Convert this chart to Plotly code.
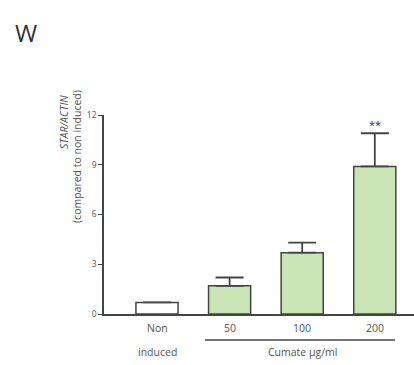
import plotly.graph_objects as go

categories = ["Non induced", "50", "100", "200"]
values = [0.7, 1.7, 3.7, 8.9]
errors = [0, 0.5, 0.6, 2.0]
fills = ["#ffffff", "#c9e5b6", "#c9e5b6", "#c9e5b6"]
y_ticks = [0, 3, 6, 9, 12]

W, H = 414, 365
L, R, T, B = 104, 0, 115, 51
pw = W - L - R
ph = H - T - B
txt = "#555555"
font = "Open Sans"

x_pos = list(range(len(categories)))

fig = go.Figure()
fig.add_trace(go.Bar(
    x=x_pos, y=values, width=0.58,
    marker=dict(color=fills, line=dict(color="#444444", width=1.5)),
    error_y=dict(type="data", array=errors, arrayminus=[0]*len(errors),
                 symmetric=False, color="#444444", thickness=1.8, width=14,
                 visible=True),
    showlegend=False,
))

def py(pix):
    return (H - B - pix) / ph

def px(pix):
    return (pix - L) / pw

def a(text, x, y, xref="paper", yref="paper", size=10.5, color=txt, angle=0):
    return dict(text=text, x=x, y=y, xref=xref, yref=yref, showarrow=False,
                xanchor="center", yanchor="middle", textangle=angle,
                font=dict(size=size, color=color, family=font))

ann = []
ann.append(a("Non", 0, py(328), xref="x"))
ann.append(a("induced", 0, py(352), xref="x"))
for i in range(1, len(categories)):
    ann.append(a(categories[i], i, py(328), xref="x"))
ann.append(a("Cumate µg/ml", 2, py(352), xref="x"))
ann.append(a("**", 3, values[3] + errors[3] + 0.55, xref="x", yref="y", size=11, color="#333333"))
ann.append(a("W", px(26), py(32), size=24, color="#333333"))
ann.append(a("<i>STAR/ACTIN</i>", px(64), py(122), angle=-90))
ann.append(a("(compared to non induced)", px(77), py(157), angle=-90))

fig.update_layout(
    width=W, height=H,
    margin=dict(l=L, r=R, t=T, b=B, pad=0),
    plot_bgcolor="white", paper_bgcolor="white",
    annotations=ann,
    shapes=[dict(type="line", xref="x", yref="paper", x0=0.66, x1=3.28,
                 y0=py(340), y1=py(340), line=dict(color="#444444", width=1.5))],
    xaxis=dict(range=[-0.73, 3.54], showticklabels=False, ticks="",
               showline=True, linecolor="#444444", linewidth=1.5,
               showgrid=False, zeroline=False, fixedrange=True),
    yaxis=dict(range=[0, 12], tickvals=y_ticks, ticks="outside", ticklen=4,
               tickcolor="#444444", tickwidth=1.2,
               tickfont=dict(size=8.5, color=txt, family=font),
               showline=True, linecolor="#444444", linewidth=1.5,
               showgrid=False, zeroline=False, fixedrange=True),
)

fig.write_html("out.html", config={"displayModeBar": False},
               post_script="document.body.style.margin='0';")
